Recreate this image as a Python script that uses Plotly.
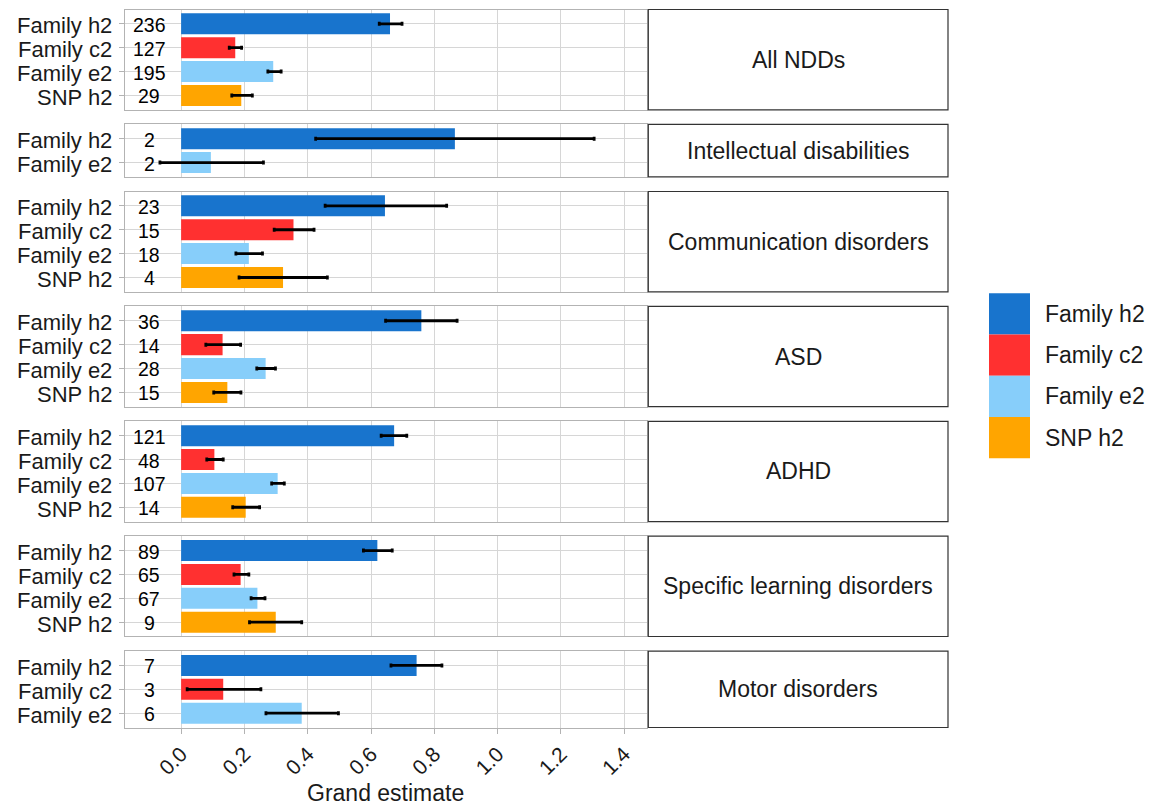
import plotly.graph_objects as go

# ---------------- data (long format, one entry per bar) ----------------
disorder = (["All NDDs"] * 4 + ["Intellectual disabilities"] * 2 +
            ["Communication disorders"] * 4 + ["ASD"] * 4 + ["ADHD"] * 4 +
            ["Specific learning disorders"] * 4 + ["Motor disorders"] * 3)
component = ["Family h2", "Family c2", "Family e2", "SNP h2",
             "Family h2", "Family e2",
             "Family h2", "Family c2", "Family e2", "SNP h2",
             "Family h2", "Family c2", "Family e2", "SNP h2",
             "Family h2", "Family c2", "Family e2", "SNP h2",
             "Family h2", "Family c2", "Family e2", "SNP h2",
             "Family h2", "Family c2", "Family e2"]
estimate = [0.660, 0.171, 0.291, 0.190,
            0.865, 0.094,
            0.644, 0.355, 0.214, 0.322,
            0.759, 0.131, 0.267, 0.146,
            0.673, 0.105, 0.305, 0.204,
            0.620, 0.188, 0.241, 0.299,
            0.744, 0.133, 0.381]
lower = [0.626, 0.152, 0.274, 0.160,
         0.425, -0.067,
         0.455, 0.294, 0.173, 0.183,
         0.646, 0.078, 0.239, 0.103,
         0.632, 0.081, 0.286, 0.163,
         0.576, 0.167, 0.221, 0.216,
         0.663, 0.019, 0.268]
upper = [0.698, 0.191, 0.316, 0.225,
         1.305, 0.260,
         0.839, 0.420, 0.257, 0.462,
         0.872, 0.188, 0.298, 0.189,
         0.713, 0.133, 0.326, 0.248,
         0.667, 0.214, 0.265, 0.381,
         0.824, 0.252, 0.497]
n_studies = [236, 127, 195, 29,
             2, 2,
             23, 15, 18, 4,
             36, 14, 28, 15,
             121, 48, 107, 14,
             89, 65, 67, 9,
             7, 3, 6]

legend_order = ["Family h2", "Family c2", "Family e2", "SNP h2"]
colors = ["#1874CD", "#FF3030", "#87CEFA", "#FFA500"]
x_ticks = [0.0, 0.2, 0.4, 0.6, 0.8, 1.0, 1.2, 1.4]

# ---------------- layout constants ----------------
PAGE_OFF = 8                      # default body margin of the html page
W, H = 1153 - PAGE_OFF, 807 - PAGE_OFF
FONT = "Liberation Sans, Arial, Helvetica, sans-serif"
TEXT_COL = "#1a1a1a"
GRID_COL = "#d6d6d6"
BORDER_COL = "#b3b3b3"
X_RANGE = [-0.178, 1.472]
LABEL_X = -0.1
PANEL_L, PANEL_R = 124.8, 647.0
STRIP_L, STRIP_R = 648.3, 948.0
YLAB_R = 114.0
TOP, BOTTOM, GAP = 9.5, 727.5, 14.6


def fx(p):
    return (p - PAGE_OFF) / W


def fy(p):
    return 1 - (p - PAGE_OFF) / H


color_map = dict(zip(legend_order, colors))

panels = []
for d in disorder:
    if d not in panels:
        panels.append(d)
counts = [disorder.count(d) for d in panels]
unit = (BOTTOM - TOP - GAP * (len(panels) - 1)) / sum(c + 0.2 for c in counts)

fig = go.Figure()
shapes, annotations = [], []
layout_axes = {}
y0 = TOP
for i, (d, n) in enumerate(zip(panels, counts), start=1):
    idx = [k for k, dd in enumerate(disorder) if dd == d]
    comps = [component[k] for k in idx]
    est = [estimate[k] for k in idx]
    plus = [upper[k] - estimate[k] for k in idx]
    minus = [estimate[k] - lower[k] for k in idx]
    ns = [str(n_studies[k]) for k in idx]
    h = unit * (n + 0.2)
    dom = [fy(y0 + h), fy(y0)]
    xa = "x" if i == 1 else f"x{i}"
    ya = "y" if i == 1 else f"y{i}"
    last = i == len(panels)

    fig.add_trace(go.Bar(
        x=est, y=comps, orientation="h", width=0.88,
        marker=dict(color=[color_map[c] for c in comps], line=dict(width=0)),
        error_x=dict(type="data", array=plus, arrayminus=minus,
                     color="black", thickness=2.8, width=2),
        showlegend=False, xaxis=xa, yaxis=ya, hoverinfo="skip"))

    layout_axes["xaxis" if i == 1 else f"xaxis{i}"] = dict(
        domain=[fx(PANEL_L), fx(PANEL_R)], range=X_RANGE, anchor=ya,
        tickvals=x_ticks, tickformat=".1f",
        showticklabels=last, ticks="outside" if last else "",
        ticklen=5, tickcolor=BORDER_COL, tickangle=-45,
        tickfont=dict(size=21, color=TEXT_COL, family=FONT),
        showgrid=True, gridcolor=GRID_COL, gridwidth=1.2,
        zeroline=False, showline=True, mirror=True,
        linecolor=BORDER_COL, linewidth=1.2, automargin=False,
        fixedrange=True)
    layout_axes["yaxis" if i == 1 else f"yaxis{i}"] = dict(
        domain=dom, anchor=xa, type="category",
        categoryorder="array", categoryarray=comps,
        range=[n - 1 + 0.6, -0.6],
        showticklabels=False,
        ticks="outside", ticklen=5, tickcolor=BORDER_COL,
        showgrid=True, gridcolor=GRID_COL, gridwidth=1.2,
        zeroline=False, showline=True, mirror=True,
        linecolor=BORDER_COL, linewidth=1.2, automargin=False,
        fixedrange=True)

    # y category labels and study counts (annotations so none are auto-hidden)
    for c, s in zip(comps, ns):
        annotations.append(dict(xref="paper", yref=ya, x=fx(YLAB_R), y=c,
                                text=c, showarrow=False, yshift=-2,
                                xanchor="right", yanchor="middle",
                                font=dict(size=22, color=TEXT_COL, family=FONT)))
        annotations.append(dict(xref=xa, yref=ya, x=LABEL_X, y=c,
                                text=s, showarrow=False, yshift=-1,
                                xanchor="center", yanchor="middle",
                                font=dict(size=19.5, color="black", family=FONT)))

    # facet strip
    shapes.append(dict(type="rect", xref="paper", yref="paper",
                       x0=fx(STRIP_L), x1=fx(STRIP_R), y0=dom[0], y1=dom[1],
                       line=dict(color="#333333", width=1.2),
                       fillcolor="white", layer="above"))
    annotations.append(dict(xref="paper", yref="paper",
                            x=fx((STRIP_L + STRIP_R) / 2), y=(dom[0] + dom[1]) / 2,
                            text=d, showarrow=False, xanchor="center", yanchor="middle",
                            font=dict(size=23, color=TEXT_COL, family=FONT)))
    y0 += h + GAP

# axis title
annotations.append(dict(xref="paper", yref="paper",
                        x=fx((PANEL_L + PANEL_R) / 2), y=fy(793),
                        text="Grand estimate", showarrow=False,
                        xanchor="center", yanchor="middle",
                        font=dict(size=23, color=TEXT_COL, family=FONT)))

# manual legend (contiguous key squares as in the reference)
KEY_L, KEY_R, KEY_T, KEY_H = 989.0, 1030.0, 293.3, 41.25
for j, (lab, col) in enumerate(zip(legend_order, colors)):
    t = KEY_T + j * KEY_H
    shapes.append(dict(type="rect", xref="paper", yref="paper",
                       x0=fx(KEY_L), x1=fx(KEY_R), y0=fy(t + KEY_H), y1=fy(t),
                       line=dict(width=0), fillcolor=col))
    annotations.append(dict(xref="paper", yref="paper",
                            x=fx(1043), y=fy(t + KEY_H / 2), text=lab,
                            showarrow=False, xanchor="left", yanchor="middle",
                            font=dict(size=23, color=TEXT_COL, family=FONT)))

fig.update_layout(
    width=W, height=H,
    margin=dict(l=0, r=0, t=0, b=0),
    plot_bgcolor="white", paper_bgcolor="white",
    font=dict(family=FONT, color=TEXT_COL),
    showlegend=False, barmode="overlay",
    shapes=shapes, annotations=annotations,
    **layout_axes)

fig.write_html("out.html")
